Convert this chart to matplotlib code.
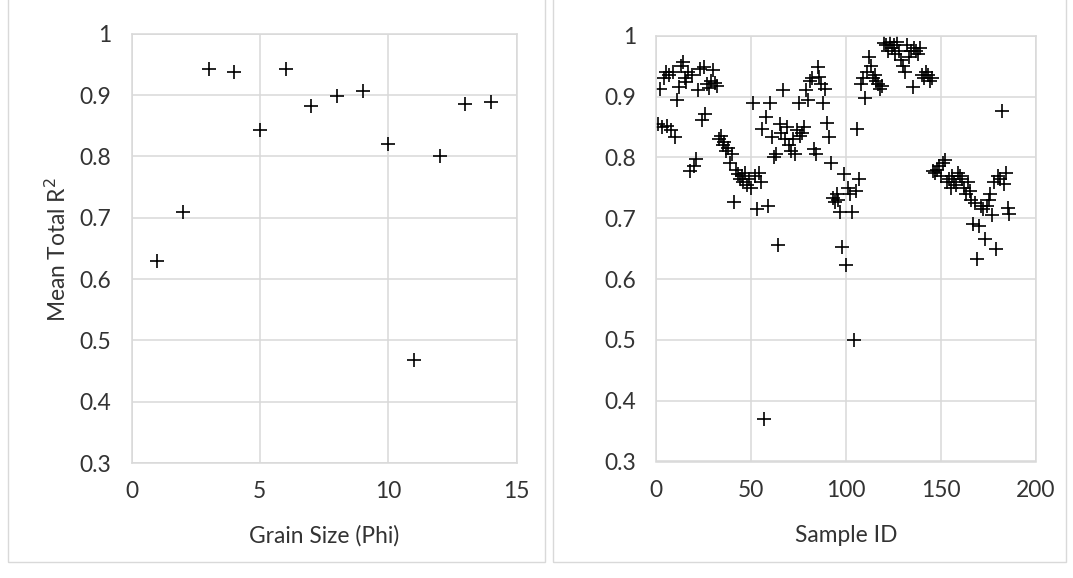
import matplotlib
matplotlib.use("Agg")
import matplotlib.pyplot as plt
from matplotlib.patches import Rectangle

# ---- data ----
grain_size = [1, 2, 3, 4, 5, 6, 7, 8, 9, 10, 11, 12, 13, 14]
grain_r2 = [0.63, 0.71, 0.942, 0.938, 0.843, 0.942, 0.882, 0.898, 0.906,
            0.82, 0.468, 0.80, 0.886, 0.888]

sample_r2 = [
    0.855, 0.912, 0.85, 0.93, 0.94, 0.852, 0.935, 0.845, 0.94, 0.833,
    0.894, 0.916, 0.95, 0.957, 0.93, 0.924, 0.94, 0.778, 0.935, 0.785,
    0.798, 0.91, 0.945, 0.861, 0.949, 0.872, 0.92, 0.914, 0.925, 0.943,
    0.922, 0.918, 0.83, 0.835, 0.82, 0.825, 0.81, 0.815, 0.79, 0.806,
    0.726, 0.78, 0.773, 0.765, 0.77, 0.76, 0.775, 0.755, 0.765, 0.75,
    0.889, 0.77, 0.715, 0.775, 0.76, 0.847, 0.37, 0.866, 0.72, 0.889,
    0.833, 0.80, 0.805, 0.656, 0.855, 0.84, 0.91, 0.83, 0.85, 0.82,
    0.81, 0.83, 0.805, 0.845, 0.889, 0.835, 0.84, 0.85, 0.91, 0.894,
    0.925, 0.93, 0.814, 0.806, 0.949, 0.932, 0.92, 0.89, 0.913, 0.856,
    0.833, 0.79, 0.734, 0.726, 0.74, 0.73, 0.71, 0.652, 0.773, 0.623,
    0.75, 0.74, 0.71, 0.50, 0.745, 0.847, 0.765, 0.92, 0.93, 0.897,
    0.94, 0.965, 0.95, 0.93, 0.935, 0.925, 0.92, 0.913, 0.918, 0.988,
    0.985, 0.975, 0.99, 0.98, 0.985, 0.97, 0.99, 0.975, 0.96, 0.95,
    0.94, 0.985, 0.965, 0.975, 0.916, 0.98, 0.975, 0.97, 0.98, 0.935,
    0.93, 0.94, 0.935, 0.925, 0.93, 0.778, 0.775, 0.78, 0.785, 0.77,
    0.79, 0.795, 0.76, 0.765, 0.75, 0.77, 0.76, 0.755, 0.775, 0.77,
    0.765, 0.75, 0.74, 0.76, 0.745, 0.73, 0.69, 0.725, 0.633, 0.687,
    0.72, 0.715, 0.666, 0.72, 0.73, 0.74, 0.706, 0.76, 0.65, 0.77,
    0.765, 0.876, 0.757, 0.775, 0.717, 0.707,
]
sample_id = list(range(1, len(sample_r2) + 1))

left_xticks = [0, 5, 10, 15]
right_xticks = [0, 50, 100, 150, 200]
yticks = [0.3, 0.4, 0.5, 0.6, 0.7, 0.8, 0.9, 1.0]
ytick_labels = ["0.3", "0.4", "0.5", "0.6", "0.7", "0.8", "0.9", "1"]

# ---- style ----
plt.rcParams["font.family"] = ["Lato", "DejaVu Sans"]
W, H = 1073, 578
fig = plt.figure(figsize=(W / 100, H / 100), dpi=100)
fig.patch.set_facecolor("white")

grid_c = "#d9d9d9"
text_c = "#333333"

# pick a font size so that the x title is about as wide as in the reference
probe = fig.text(0, 0, "Grain Size (Phi)", fontsize=10)
r = fig.canvas.get_renderer()
w10 = probe.get_window_extent(renderer=r).width
probe.remove()
FS = 10 * 150.0 / w10

# chart frames (Excel-like)
for x0, x1 in [(8, 545), (553, 1066)]:
    fig.patches.append(Rectangle((x0 / W, 1 - 562 / H), (x1 - x0) / W, 600 / H,
                                 transform=fig.transFigure, fill=False,
                                 edgecolor=grid_c, linewidth=1.0, zorder=0))


def style_axis(ax, xlim, xticks):
    ax.set_xlim(*xlim)
    ax.set_ylim(0.3, 1.0)
    ax.set_xticks(xticks)
    ax.set_xticklabels([str(t) for t in xticks])
    ax.set_yticks(yticks)
    ax.set_yticklabels(ytick_labels)
    ax.grid(True, color=grid_c, linewidth=1.1)
    ax.set_axisbelow(True)
    for s in ax.spines.values():
        s.set_color(grid_c)
        s.set_linewidth(1.1)
    ax.tick_params(length=0, labelsize=FS, labelcolor=text_c, pad=14.5)
    ax.tick_params(axis="x", pad=13)


ax1 = fig.add_axes([131.5 / W, 1 - 463 / H, 385 / W, 429.2 / H])
ax1.plot(grain_size, grain_r2, linestyle="none", marker="+", color="black",
         markersize=10.5, markeredgewidth=1.2)
style_axis(ax1, (0, 15), left_xticks)

ax2 = fig.add_axes([656 / W, 1 - 461.5 / H, 380 / W, 425.8 / H])
ax2.plot(sample_id, sample_r2, linestyle="none", marker="+", color="black",
         markersize=10.5, markeredgewidth=1.2)
style_axis(ax2, (0, 200), right_xticks)

fig.text(324 / W, 1 - 536 / H, "Grain Size (Phi)", fontsize=FS, color=text_c,
         ha="center", va="center")
fig.text(846 / W, 1 - 536 / H, "Sample ID", fontsize=FS, color=text_c,
         ha="center", va="center")
fig.text(57 / W, 1 - 250 / H, "Mean Total R$^2$", fontsize=FS, color=text_c,
         ha="center", va="center", rotation=90)

fig.savefig("out.png", dpi=100, facecolor="white")
